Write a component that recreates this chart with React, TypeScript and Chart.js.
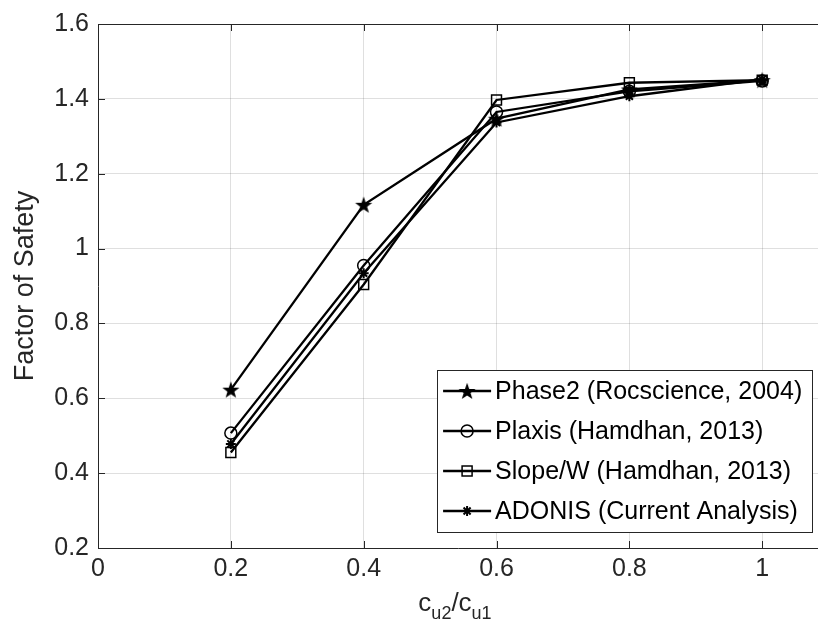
import React, { useEffect, useRef } from 'react';
import { Chart, registerables } from 'chart.js';

Chart.register(...registerables);

// ---- data ----
const ratios = [0.2, 0.4, 0.6, 0.8, 1.0];
const phase2 = [0.623, 1.117, 1.347, 1.425, 1.45];
const plaxis = [0.507, 0.955, 1.365, 1.42, 1.448];
const slopeW = [0.455, 0.904, 1.397, 1.443, 1.45];
const adonis = [0.478, 0.934, 1.337, 1.407, 1.452];
const seriesNames = [
  'Phase2 (Rocscience, 2004)',
  'Plaxis (Hamdhan, 2013)',
  'Slope/W (Hamdhan, 2013)',
  'ADONIS (Current Analysis)',
];
const xTicks = [0, 0.2, 0.4, 0.6, 0.8, 1];
const xTickLabels = ['0', '0.2', '0.4', '0.6', '0.8', '1'];
const yTicks = [0.2, 0.4, 0.6, 0.8, 1, 1.2, 1.4, 1.6];
const yTickLabels = ['0.2', '0.4', '0.6', '0.8', '1', '1.2', '1.4', '1.6'];
const yTitle = 'Factor of Safety';

const FONT = '"Liberation Sans", Arial, sans-serif';
const FS = 25;
const INK = '#262626';

function makeStar(outer: number, inner: number): HTMLCanvasElement {
  const size = Math.ceil(outer * 2 + 2);
  const c = document.createElement('canvas');
  c.width = size;
  c.height = size;
  const g = c.getContext('2d')!;
  const cx = size / 2;
  const cy = size / 2 + 0.8;
  g.beginPath();
  for (let i = 0; i < 10; i++) {
    const r = i % 2 === 0 ? outer : inner;
    const a = -Math.PI / 2 + (i * Math.PI) / 5;
    const px = cx + r * Math.cos(a);
    const py = cy + r * Math.sin(a);
    if (i === 0) g.moveTo(px, py);
    else g.lineTo(px, py);
  }
  g.closePath();
  g.fillStyle = '#000';
  g.fill();
  return c;
}

function drawLegendMarker(ctx: CanvasRenderingContext2D, kind: string, x: number, y: number, star: HTMLCanvasElement) {
  ctx.save();
  ctx.strokeStyle = '#000';
  ctx.fillStyle = '#000';
  ctx.lineWidth = 1.5;
  if (kind === 'star') {
    ctx.drawImage(star, x - star.width / 2, y - star.height / 2);
  } else if (kind === 'circle') {
    ctx.beginPath();
    ctx.arc(x, y, 6, 0, Math.PI * 2);
    ctx.stroke();
  } else if (kind === 'rect') {
    ctx.strokeRect(x - 5, y - 5, 10, 10);
  } else {
    ctx.lineWidth = 2;
    const r = 5;
    ctx.beginPath();
    for (let i = 0; i < 4; i++) {
      const a = (i * Math.PI) / 4;
      ctx.moveTo(x - r * Math.cos(a), y - r * Math.sin(a));
      ctx.lineTo(x + r * Math.cos(a), y + r * Math.sin(a));
    }
    ctx.stroke();
  }
  ctx.restore();
}

export default function App() {
  const ref = useRef<HTMLCanvasElement | null>(null);

  useEffect(() => {
    if (!ref.current) return;
    const star = makeStar(9, 3.6);
    const markerKinds = ['star', 'circle', 'rect', 'asterisk'];

    const frame = {
      id: 'frame',
      afterDatasetsDraw(chart: any) {
        const { ctx, chartArea } = chart;
        const { left, right, top, bottom } = chartArea;
        const xs = chart.scales.x;
        const ys = chart.scales.y;
        ctx.save();
        ctx.strokeStyle = INK;
        ctx.lineWidth = 1;
        ctx.beginPath();
        ctx.moveTo(left, top + 0.5);
        ctx.lineTo(right, top + 0.5);
        xTicks.forEach((v) => {
          const px = Math.round(xs.getPixelForValue(v)) + 0.5;
          ctx.moveTo(px, bottom);
          ctx.lineTo(px, bottom - 7);
          ctx.moveTo(px, top);
          ctx.lineTo(px, top + 7);
        });
        yTicks.forEach((v) => {
          const py = Math.round(ys.getPixelForValue(v)) + 0.5;
          ctx.moveTo(left, py);
          ctx.lineTo(left + 7, py);
        });
        ctx.stroke();
        ctx.restore();
      },
      afterDraw(chart: any) {
        const { ctx, chartArea } = chart;
        const { bottom } = chartArea;
        const xs = chart.scales.x;
        ctx.save();
        // legend
        ctx.font = `${FS}px ${FONT}`;
        const textW = Math.max(...seriesNames.map((s) => ctx.measureText(s).width));
        const rowH = 40;
        const boxR = xs.getPixelForValue(1) + 50;
        const boxW = 58 + textW + 10;
        const boxL = boxR - boxW;
        const boxB = bottom - 16;
        const boxT = boxB - rowH * seriesNames.length - 2;
        ctx.fillStyle = '#fff';
        ctx.fillRect(boxL, boxT, boxW, boxB - boxT);
        ctx.strokeStyle = INK;
        ctx.lineWidth = 1;
        ctx.strokeRect(Math.round(boxL) + 0.5, Math.round(boxT) + 0.5, Math.round(boxW), Math.round(boxB - boxT));
        seriesNames.forEach((name, i) => {
          const cy = boxT + 21 + i * rowH;
          ctx.strokeStyle = '#000';
          ctx.lineWidth = 2.3;
          ctx.beginPath();
          ctx.moveTo(boxL + 6, cy);
          ctx.lineTo(boxL + 54, cy);
          ctx.stroke();
          drawLegendMarker(ctx, markerKinds[i], boxL + 30, cy, star);
          ctx.fillStyle = '#000';
          ctx.textBaseline = 'middle';
          ctx.textAlign = 'left';
          ctx.fillText(name, boxL + 58, cy + 1);
        });
        // x-axis title with subscripts: c_u2 / c_u1
        const big = `${FS + 1}px ${FONT}`;
        const small = `${Math.round(FS * 0.72)}px ${FONT}`;
        const parts: [string, boolean][] = [
          ['c', false],
          ['u2', true],
          ['/c', false],
          ['u1', true],
        ];
        let total = 0;
        parts.forEach(([t, sub]) => {
          ctx.font = sub ? small : big;
          total += ctx.measureText(t).width;
        });
        let x = 455 - total / 2;
        const base = 611;
        ctx.fillStyle = INK;
        ctx.textBaseline = 'alphabetic';
        ctx.textAlign = 'left';
        parts.forEach(([t, sub]) => {
          ctx.font = sub ? small : big;
          ctx.fillText(t, x, sub ? base + 8 : base);
          x += ctx.measureText(t).width;
        });
        ctx.restore();
      },
    };

    const mk = (label: string, data: number[], extra: any) => ({
      label,
      data: ratios.map((r, i) => ({ x: r, y: data[i] })),
      borderColor: '#000',
      backgroundColor: 'rgba(0,0,0,0)',
      borderWidth: 2.3,
      pointBorderColor: '#000',
      pointBorderWidth: 1.5,
      ...extra,
    });

    const chart = new Chart(ref.current, {
      type: 'line',
      data: {
        datasets: [
          mk(seriesNames[0], phase2, { pointStyle: star, pointRadius: 9 }),
          mk(seriesNames[1], plaxis, { pointStyle: 'circle', pointRadius: 6, pointBackgroundColor: 'rgba(0,0,0,0)' }),
          mk(seriesNames[2], slopeW, { pointStyle: 'rect', pointRadius: 7, pointBackgroundColor: 'rgba(0,0,0,0)' }),
          mk(seriesNames[3], adonis, { pointStyle: 'star', pointRadius: 5, pointBorderWidth: 2 }),
        ],
      },
      options: {
        responsive: false,
        animation: false,
        devicePixelRatio: 1,
        layout: { autoPadding: false, padding: { top: 17, right: 0, left: 0, bottom: 0 } },
        plugins: { legend: { display: false }, tooltip: { enabled: false }, title: { display: false } },
        scales: {
          x: {
            type: 'linear',
            min: 0,
            max: 1.084,
            afterBuildTicks: (s: any) => {
              s.ticks = xTicks.map((v) => ({ value: v }));
            },
            afterFit: (s: any) => {
              s.height = 91;
              s.paddingLeft = 0;
              s.paddingRight = 0;
            },
            ticks: {
              includeBounds: false,
              padding: 6,
              color: INK,
              font: { family: FONT, size: FS },
              callback: (_v: any, i: number) => xTickLabels[i],
              maxRotation: 0,
            },
            grid: { color: 'rgba(38,38,38,0.15)', drawTicks: false, lineWidth: 1 },
            border: { display: true, color: INK, width: 1 },
          },
          y: {
            type: 'linear',
            min: 0.2,
            max: 1.6,
            afterBuildTicks: (s: any) => {
              s.ticks = yTicks.map((v) => ({ value: v }));
            },
            afterFit: (s: any) => {
              s.width = 98;
            },
            ticks: {
              padding: 9,
              color: INK,
              font: { family: FONT, size: FS },
              callback: (_v: any, i: number) => yTickLabels[i],
            },
            grid: { color: 'rgba(38,38,38,0.15)', drawTicks: false, lineWidth: 1 },
            border: { display: true, color: INK, width: 1 },
            title: {
              display: true,
              text: yTitle,
              color: INK,
              font: { family: FONT, size: 27 },
              padding: { top: 9, bottom: 0 },
            },
          },
        },
      },
      plugins: [frame],
    } as any);

    return () => chart.destroy();
  }, []);

  return (
    <div style={{ position: 'absolute', left: 0, top: 0, width: 818, height: 639, overflow: 'hidden', background: '#fff' }}>
      <canvas ref={ref} width={818} height={639} />
    </div>
  );
}
